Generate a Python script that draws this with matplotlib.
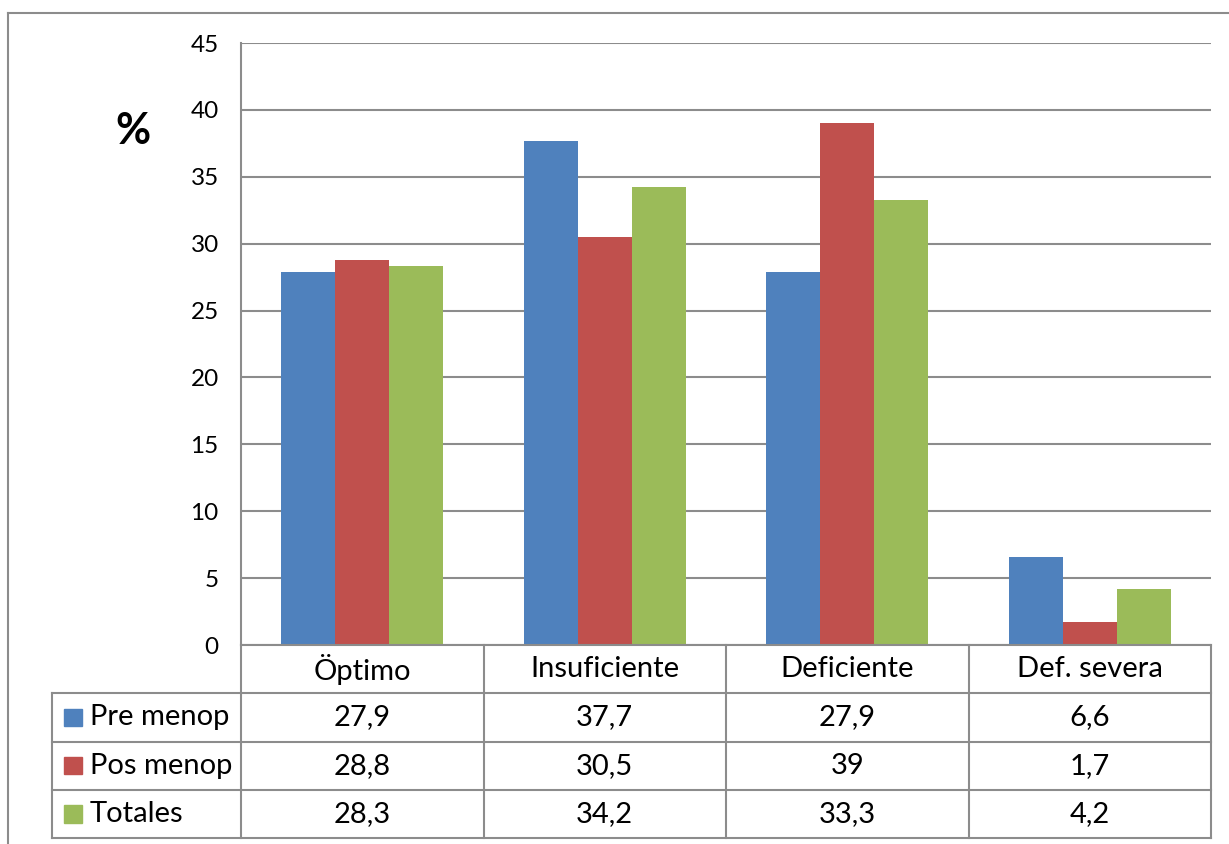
import matplotlib
matplotlib.use("Agg")
import matplotlib.pyplot as plt
import numpy as np

plt.rcParams['font.family'] = ['Lato', 'DejaVu Sans']

categorias = ["Öptimo", "Insuficiente", "Deficiente", "Def. severa"]
series = ["Pre menop", "Pos menop", "Totales"]
pre_menop = [27.9, 37.7, 27.9, 6.6]
pos_menop = [28.8, 30.5, 39, 1.7]
totales = [28.3, 34.2, 33.3, 4.2]
colores = ["#4F81BD", "#C0504D", "#9BBB59"]
yticks = list(range(0, 50, 5))

W, H = 1229, 844
fig = plt.figure(figsize=(W / 100, H / 100), dpi=100)
gris = "#8C8C8C"

def px(x0, y0, x1, y1):
    # convierte caja en pixeles (arriba-izquierda) a coordenadas de figura
    return [x0 / W, 1 - y1 / H, (x1 - x0) / W, (y1 - y0) / H]

# marco exterior
fig.add_artist(plt.Line2D([8 / W, 1], [1 - 13 / H] * 2, color=gris, lw=1.5))
fig.add_artist(plt.Line2D([8 / W] * 2, [0, 1 - 13 / H], color=gris, lw=1.5))

ax = fig.add_axes(px(241, 43, 1211, 645))
x = np.arange(len(categorias))
w = 0.222
datos = [pre_menop, pos_menop, totales]
for i, (vals, c) in enumerate(zip(datos, colores)):
    ax.bar(x + (i - 1) * w, vals, w, color=c, zorder=3)

ax.set_xlim(-0.5, 3.5)
ax.set_ylim(0, 45)
ax.set_yticks(yticks)
ax.set_yticklabels([str(t) for t in yticks], fontsize=17.5)
ax.yaxis.grid(True, color=gris, lw=1.5, zorder=0)
ax.set_xticks([])
ax.tick_params(axis='y', length=0, pad=16)
for s in ["top", "right", "bottom"]:
    ax.spines[s].set_visible(False)
ax.spines["left"].set_color(gris)
ax.spines["left"].set_linewidth(1.5)

fig.text(133 / W, 1 - 131 / H, "%", fontsize=31, fontweight="bold",
         ha="center", va="center")

# tabla de datos
lab_w = (241 - 52) / ((1211 - 241) / 4)
tx = fig.add_axes(px(52, 645, 1211, 838))
tx.set_xlim(-0.5 - lab_w, 3.5)
tx.set_ylim(4, 0)
tx.axis("off")
bordes = np.arange(-0.5, 4.0, 1.0)
kw = dict(color=gris, lw=1.5, clip_on=False)
tx.plot([-0.5, 3.5], [0, 0], **kw)
for r in range(1, 5):
    tx.plot([-0.5 - lab_w, 3.5], [r, r], **kw)
for b in bordes:
    tx.plot([b, b], [0, 4], **kw)
tx.plot([-0.5 - lab_w] * 2, [1, 4], **kw)

fs = 21
for j, cat in enumerate(categorias):
    tx.text(j, 0.5, cat, ha="center", va="center", fontsize=fs)
for i, (nombre, vals, c) in enumerate(zip(series, datos, colores)):
    fila = i + 1.5
    tx.add_patch(plt.Rectangle((-0.5 - lab_w + 0.05, fila - 0.18), 0.072, 0.36,
                               color=c, clip_on=False))
    tx.text(-0.5 - lab_w + 0.155, fila, nombre, ha="left", va="center", fontsize=fs)
    for j, v in enumerate(vals):
        tx.text(j, fila, f"{v:g}".replace(".", ","), ha="center", va="center",
                fontsize=fs)

fig.savefig("out.png", dpi=100)
